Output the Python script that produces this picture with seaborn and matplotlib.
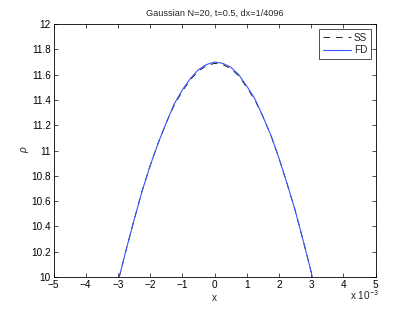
import numpy as np
import pandas as pd
import matplotlib
matplotlib.use("Agg")
import matplotlib.pyplot as plt
import seaborn as sns

# x in units of 1e-3
x_vals = [-3.5, -3.25, -3.0, -2.75, -2.5, -2.25, -2.0, -1.75, -1.5, -1.25, -1.0, -0.75, -0.5, -0.25,
          0.0, 0.25, 0.5, 0.75, 1.0, 1.25, 1.5, 1.75, 2.0, 2.25, 2.5, 2.75, 3.0, 3.25, 3.5]
fd_vals = [9.40, 9.69, 9.96, 10.21, 10.45, 10.68, 10.88, 11.06, 11.22, 11.37, 11.48, 11.57, 11.64, 11.68,
           11.70, 11.69, 11.66, 11.60, 11.51, 11.41, 11.27, 11.12, 10.94, 10.74, 10.53, 10.29, 10.04, 9.77, 9.49]
ss_vals = [9.40, 9.69, 9.96, 10.21, 10.45, 10.68, 10.88, 11.06, 11.22, 11.36, 11.47, 11.56, 11.63, 11.67,
           11.69, 11.68, 11.65, 11.59, 11.50, 11.40, 11.27, 11.12, 10.94, 10.74, 10.53, 10.29, 10.04, 9.77, 9.49]
x_ticks = [-5, -4, -3, -2, -1, 0, 1, 2, 3, 4, 5]
y_ticks = [10, 10.2, 10.4, 10.6, 10.8, 11, 11.2, 11.4, 11.6, 11.8, 12]

sns.set_style("ticks")
plt.rcParams['font.family'] = ['Liberation Sans', 'DejaVu Sans']
plt.rcParams['mathtext.fontset'] = 'custom'
plt.rcParams['mathtext.rm'] = 'Liberation Sans'
plt.rcParams['mathtext.it'] = 'Liberation Sans:italic'

df = pd.DataFrame({
    "x": np.array(x_vals) * 1e-3,
    "SS": ss_vals,
    "FD": fd_vals,
})

SS_COLOR = "black"
FD_COLOR = "#3a55ff"
SS_DASH = (0, (8, 7))

fig = plt.figure(figsize=(4.15, 3.13), dpi=100)
ax = fig.add_axes([0.129, 0.115, 0.776, 0.808])

sns.lineplot(data=df, x="x", y="SS", ax=ax, color=SS_COLOR, linewidth=0.6,
             linestyle=SS_DASH, legend=False)
sns.lineplot(data=df, x="x", y="FD", ax=ax, color=FD_COLOR, linewidth=0.8, legend=False)

ax.set_xlim(-5e-3, 5e-3)
ax.set_ylim(10, 12)
ax.set_xticks(np.array(x_ticks) * 1e-3)
ax.set_xticklabels([("\u2212%d" % -t) if t < 0 else "%d" % t for t in x_ticks])
ax.set_yticks(y_ticks)
ax.set_yticklabels([("%g" % t) for t in y_ticks])

ax.tick_params(direction="in", length=3, width=0.5, labelsize=7.2, pad=2,
               top=True, right=True, colors="black")
for s in ax.spines.values():
    s.set_linewidth(0.6)
    s.set_color("black")
    s.set_visible(True)

ax.set_xlabel("x", fontsize=7.2, labelpad=2)
ax.set_ylabel("\u03c1", fontsize=7.2, labelpad=1, fontstyle="italic")
ax.set_title("Gaussian N=20, t=0.5, dx=1/4096", fontsize=6.6, pad=6)

ax.text(0.964, -0.072, r"x 10$^{-3}$", transform=ax.transAxes, fontsize=7.2,
        ha="center", va="center")

lines = ax.get_lines()
leg = ax.legend(lines[:2], ["SS", "FD"], loc="upper right", fontsize=7.2, frameon=True,
                fancybox=False, handlelength=2.8, handletextpad=0.3, borderpad=0.35,
                labelspacing=0.25, borderaxespad=0.5)
leg.get_frame().set_edgecolor("black")
leg.get_frame().set_linewidth(0.6)

fig.savefig("out.png", dpi=100, facecolor="white")
